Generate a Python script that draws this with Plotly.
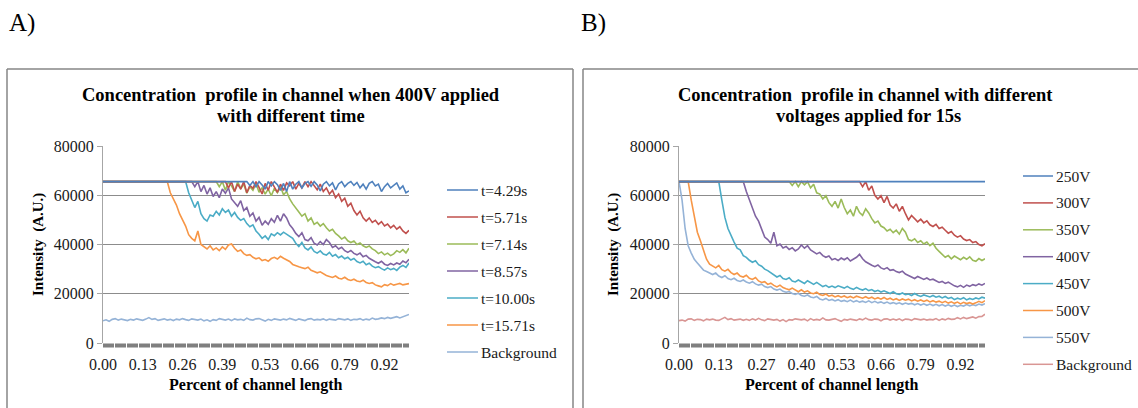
import plotly.graph_objects as go

# ---------------- data ----------------
# position along the channel (fraction of channel length), one value per sample
channel_pos = [round(i * 0.01, 2) for i in range(101)]

xtick_labels_a = ["0.00", "0.13", "0.26", "0.39", "0.53", "0.66", "0.79", "0.92"]
xtick_labels_b = ["0.00", "0.13", "0.27", "0.40", "0.53", "0.66", "0.79", "0.92"]
ytick_vals = [0, 20000, 40000, 60000, 80000]
ytick_labels = ["0", "20000", "40000", "60000", "80000"]

# Panel A: 400V applied for different times
a_names = ["t=4.29s", "t=5.71s", "t=7.14s", "t=8.57s", "t=10.00s", "t=15.71s", "Background"]

a_t429 = [65535] * 48 + [
    64000, 65535, 63500, 65535, 64200, 62500, 65535, 63800, 65535, 64300,
    62000, 64800, 61500, 65535, 62500, 64500, 65535, 63000, 64800, 65535,
    63600, 65535, 64200, 61800, 64500, 65535, 63800, 65000, 62200, 64600,
    65535, 63500, 64800, 65535, 64000, 65200, 63000, 64500, 62500, 64800,
    65535, 63800, 64500, 61500, 63500, 64800, 63000, 64200, 65000, 62500,
    63800, 61000, 61800]

a_t571 = [65535] * 41 + [
    63000, 65535, 61500, 64500, 62500, 65535, 61000, 64000, 62800, 65535,
    63200, 60500, 64800, 62000, 65535, 63500, 61200, 64500, 62000, 65000,
    63800, 65535, 62500, 64800, 63000, 65535, 63500, 65535, 64000, 62200,
    64500, 61500, 63000, 60500, 62000, 59000, 60500, 57500, 58800, 55500,
    56800, 53800, 52000, 53500, 50800, 49500, 50800, 49000, 49800, 48200,
    49300, 47500, 48300, 46800, 47800, 46200, 47200, 45500, 44500, 45800]

a_t714 = [65535] * 38 + [
    63500, 65535, 62000, 65535, 63800, 61500, 65535, 62800, 64500, 60800,
    63500, 62000, 64800, 61200, 63000, 60500, 62500, 59800, 62800, 61000,
    63500, 60200, 61500, 58500, 56500, 55000, 53200, 51500, 52500, 49500,
    50800, 48200, 49000, 47500, 48500, 46800, 45500, 46200, 44500, 43500,
    42200, 43000, 41500, 40800, 41400, 40000, 40600, 39500, 38800, 39400,
    38200, 37500, 36300, 37000, 35800, 36500, 35500, 36200, 37500, 36800,
    37900, 36600, 38500]

a_t857 = [65535] * 30 + [
    63500, 65535, 61500, 64000, 60500, 63000, 59500, 61500, 59000, 62500,
    60800, 63000, 58500, 57000, 55500, 57800, 53800, 55000, 51500, 52800,
    49500, 51000, 47800, 49500, 48200, 50500, 49000, 51800, 49500, 52500,
    50800, 48000, 46500, 44500, 43200, 44800, 42000, 41500, 42800, 40500,
    39800, 41200, 40000, 42000, 40800, 38800, 39500, 38200, 38900, 37500,
    36800, 37600, 36400, 35800, 36500, 35000, 35600, 34400, 33600, 33000,
    32400, 33200, 32000, 31500, 32300, 31700, 32500, 32000, 33300, 32600,
    34000]

a_t1000 = [65535] * 28 + [
    61000, 58000, 55000, 57500, 52500, 50500, 49500, 52000, 51500, 53500,
    52000, 54500, 53000, 54000, 51500, 53000, 51000, 49800, 50500, 48500,
    47200, 48000, 45500, 44200, 42500, 43500, 42000, 44300, 43600, 44800,
    43900, 45000, 44200, 43300, 42500, 40500, 39200, 40800, 38600, 37800,
    39000, 37200, 36500, 37400, 36100, 35700, 36800, 35200, 35900, 34600,
    35300, 34200, 34800, 33700, 34300, 33100, 32500, 33200, 31800, 32400,
    31200, 30600, 31000, 30200, 29600, 30500, 29800, 30300, 29500, 30800,
    31500, 30700, 32500]

a_t1571 = [65535] * 22 + [
    61000, 58500, 56000, 52500, 50000, 47500, 44000, 42500, 41500, 45500,
    40000, 39000, 38200, 39500, 37800, 38600, 37500, 39000, 38000, 39800,
    40200, 38500, 37200, 37800, 36300, 35600, 35900, 34800, 34200, 34600,
    33500, 33900, 33200, 34300, 34800, 34100, 35200, 34400, 33700, 33100,
    31900, 31600, 31000, 30600, 30200, 30800, 29500, 29000, 28500, 28900,
    28000, 27400, 27000, 26600, 27200, 26300, 26000, 26700, 25800, 25400,
    25900, 25200, 24900, 25500, 24600, 24200, 24500, 23600, 23200, 22800,
    23700, 23300, 24100, 23500, 23900, 24200, 23600, 24000, 24100]

a_background = [
    9000, 9400, 8800, 9600, 9900, 9300, 9700, 9500, 9100, 9600,
    9300, 9800, 9400, 9200, 9700, 10300, 9600, 9900, 9200, 9500,
    9800, 9300, 9600, 9100, 9700, 9400, 9900, 9500, 9200, 9800,
    9600, 9300, 9700, 9000, 9400, 8800, 9500, 9200, 9900, 9600,
    9300, 9700, 9100, 9800, 9400, 9600, 9200, 10100, 9500, 9300,
    9800, 9900, 9400, 8900, 9600, 9200, 9800, 9500, 9300, 9700,
    9400, 10000, 9600, 9200, 9800, 9500, 9100, 9700, 9900, 9300,
    9600, 9400, 9800, 9200, 9700, 9500, 9300, 9900, 9600, 9400,
    9800, 9200, 9600, 9500, 9900, 9300, 9700, 9400, 10100, 9600,
    9800, 10200, 9900, 10400, 10000, 10300, 10700, 10200, 10600, 10900,
    11600]

# Panel B: different voltages applied for 15 s
b_names = ["250V", "300V", "350V", "400V", "450V", "500V", "550V", "Background"]

b_250 = [65535] * 101

b_300 = [65535] * 60 + [
    63500, 65535, 62000, 63800, 60000, 58500, 59800, 57000, 59500, 56000,
    54800, 56500, 53500, 55500, 52500, 50000, 51800, 50500, 49200, 50300,
    48800, 49600, 48000, 47300, 48200, 46500, 47000, 45800, 44600, 45300,
    43800, 43000, 43600, 42200, 41600, 42000, 40800, 41200, 40000, 39500,
    40300]

b_350 = [65535] * 37 + [
    64000, 65535, 63500, 65535, 64200, 65535, 63000, 64500, 61000, 60500,
    58500, 59800, 57000, 55500, 57500, 54800, 58500, 55000, 52500, 54000,
    51500, 55500, 53000, 51800, 54500, 52800, 50500, 48800, 49500, 47500,
    46800, 45500, 46200, 44800, 45800, 44200, 46500, 45000, 42000, 41500,
    42300, 40800, 41500, 40200, 41000, 39500, 40500, 38500, 37200, 36000,
    34800, 35500, 34200, 35300, 34500, 33800, 34800, 34000, 35000, 33600,
    33200, 34300, 33500, 34200]

b_400 = [65535] * 22 + [
    61500, 58000, 55000, 51500, 49500, 46500, 43000, 42000, 40500, 45000,
    39500, 40200, 38600, 39200, 38000, 38700, 37400, 38200, 39800, 38500,
    39500, 37800, 37000, 36200, 36800, 35500, 34800, 35300, 33800, 34300,
    33500, 34500, 33800, 34600, 33300, 34000, 34800, 36000, 34200, 33000,
    32200, 31600, 31000, 31700, 30500, 30000, 30600, 29500, 29800, 29000,
    28600, 29200, 28000, 27500, 26800, 26200, 27000, 26500, 25800, 26400,
    25600, 25900, 25200, 24600, 25000, 24200, 24700, 23800, 23200, 22800,
    23400, 22600, 23500, 23000, 23700, 23300, 24000, 23500, 24200]

b_450 = [65535] * 14 + [
    58000, 51000, 46500, 43500, 41000, 38500, 37800, 35500, 34800, 33600,
    32800, 33400, 31800, 31200, 30000, 29400, 28600, 27500, 26800, 27400,
    26200, 25800, 26500, 25200, 24800, 25600, 24900, 24200, 25300, 24500,
    23800, 24600, 23600, 22900, 23400, 22600, 23100, 22500, 23200, 22700,
    22300, 23000, 22200, 21800, 22600, 21900, 21500, 22100, 21300, 21700,
    20900, 21400, 20700, 21200, 20500, 20100, 20800, 20000, 19700, 20300,
    19600, 19900, 19300, 20100, 19400, 18900, 19500, 19100, 18700, 19300,
    18600, 19000, 18300, 18900, 18100, 18500, 17600, 18200, 17800, 18400,
    17500, 18100, 17700, 18300, 17900, 18600, 18200]

b_500 = [65535] * 4 + [
    58000, 52000, 45000, 41500, 37500, 34000, 32000, 31200, 30500, 31500,
    29800, 29200, 29900, 28600, 27800, 28400, 27200, 26800, 27500, 26300,
    25800, 26600, 25200, 24600, 24900, 23800, 24300, 23400, 22800, 23500,
    22500, 22000, 21600, 22300, 21400, 20800, 21600, 20700, 21200, 20300,
    20000, 20600, 19700, 19300, 19900, 19000, 19400, 18700, 19200, 18600,
    19100, 18400, 18900, 18300, 19000, 18500, 18200, 18800, 18100, 18600,
    17900, 18400, 17800, 18500, 17700, 18200, 17500, 18000, 17300, 17900,
    17400, 17800, 17100, 17600, 17000, 17500, 16900, 17400, 16700, 17200,
    16600, 17000, 16400, 16900, 16200, 16700, 16100, 16600, 15900, 16500,
    16000, 16400, 15800, 16300, 16900, 16400, 17200]

b_550 = [
    65535, 58000, 46500, 39500, 36500, 34000, 32500, 30800, 29600, 29000,
    28300, 27800, 28400, 27200, 26600, 27300, 26200, 25700, 26300, 25400,
    25000, 25600, 24800, 24300, 24900, 24000, 23500, 23900, 22900, 22500,
    22900, 21900, 21500, 21900, 21000, 20600, 20900, 20100, 19700, 20200,
    19300, 19000, 19500, 18700, 18400, 18900, 17900, 17500, 18100, 17300,
    17700, 17100, 17600, 16900, 17300, 16800, 17400, 16700, 17200, 16600,
    17000, 16500, 17100, 16400, 16900, 16300, 16700, 16100, 16600, 16000,
    16400, 15900, 16300, 15700, 16200, 15800, 16100, 15500, 16000, 15400,
    15900, 15300, 15800, 15200, 15700, 15100, 15600, 15000, 15500, 14900,
    15400, 14800, 15300, 15000, 15600, 15100, 15500, 15200, 15800, 15400,
    16000]

b_background = [
    9100, 9300, 8900, 9700, 9800, 9200, 9600, 9500, 9000, 9700,
    9400, 9700, 9300, 9200, 9800, 10400, 9500, 9900, 9300, 9600,
    9700, 9200, 9600, 9200, 9800, 9300, 10000, 9400, 9100, 9800,
    9500, 9300, 9600, 8900, 9500, 8700, 9500, 9300, 9800, 9500,
    9400, 9700, 9000, 9900, 9300, 9600, 9300, 10200, 9400, 9300,
    9700, 9900, 9300, 8800, 9600, 9300, 9700, 9500, 9200, 9800,
    9400, 10100, 9500, 9300, 9700, 9600, 9000, 9700, 9800, 9300,
    9700, 9300, 9800, 9100, 9700, 9600, 9200, 9900, 9500, 9400,
    9700, 9300, 9600, 9400, 9900, 9200, 9800, 9400, 10000, 9600,
    9700, 10300, 9800, 10400, 9900, 10300, 10600, 10100, 10700, 10800,
    11700]

a_series = [a_t429, a_t571, a_t714, a_t857, a_t1000, a_t1571, a_background]
b_series = [b_250, b_300, b_350, b_400, b_450, b_500, b_550, b_background]

# ---------------- styles ----------------
a_colors = ["#4F81BD", "#C0504D", "#9BBB59", "#8064A2", "#4BACC6", "#F79646", "#95B3D7"]
b_colors = ["#4F81BD", "#C0504D", "#9BBB59", "#8064A2", "#4BACC6", "#F79646", "#95B3D7", "#D99694"]

W, H = 1138, 408
SERIF = "Liberation Serif"


def px_x(p):
    return p / W


def px_y(p):
    return 1 - p / H


fig = go.Figure()

# later series drawn first so that earlier ones sit on top
for ys, name, col in list(zip(a_series, a_names, a_colors))[::-1]:
    fig.add_trace(go.Scatter(x=channel_pos, y=ys, name=name, mode="lines",
                             line=dict(color=col, width=1.6), xaxis="x", yaxis="y",
                             showlegend=False, cliponaxis=True))
for ys, name, col in list(zip(b_series, b_names, b_colors))[::-1]:
    fig.add_trace(go.Scatter(x=channel_pos, y=ys, name=name, mode="lines",
                             line=dict(color=col, width=1.6), xaxis="x2", yaxis="y2",
                             showlegend=False, cliponaxis=True))

plot_a = (103, 409)
plot_b = (679, 985)
plot_top, plot_bot = 146, 343

yaxis_common = dict(range=[0, 80000], tickvals=ytick_vals, ticktext=ytick_labels,
                    showgrid=True, gridcolor="#8c8c8c", gridwidth=1, zeroline=False,
                    showline=True, linecolor="#a6a6a6", linewidth=1,
                    ticks="outside", ticklen=5, tickcolor="#a6a6a6", automargin=False,
                    tickfont=dict(family=SERIF, size=16, color="#1a1a1a"),
                    domain=[px_y(plot_bot), px_y(plot_top)], fixedrange=True)

xaxis_common = dict(range=[0, 1.0], showgrid=False, zeroline=False, showline=False,
                    ticks="outside", ticklen=7, tickcolor="rgba(0,0,0,0)", automargin=False,
                    tickfont=dict(family=SERIF, size=16, color="#1a1a1a"), fixedrange=True)

fig.update_layout(
    width=W, height=H, autosize=False,
    margin=dict(l=0, r=0, t=0, b=0, pad=0, autoexpand=False),
    paper_bgcolor="white", plot_bgcolor="white", showlegend=False,
    font=dict(family=SERIF),
    xaxis=dict(domain=[px_x(plot_a[0]), px_x(plot_a[1])], anchor="y",
               tickvals=[float(t) for t in xtick_labels_a], ticktext=xtick_labels_a,
               **xaxis_common),
    yaxis=dict(anchor="x", **yaxis_common),
    xaxis2=dict(domain=[px_x(plot_b[0]), px_x(plot_b[1])], anchor="y2",
                tickvals=[float(t) for t in xtick_labels_b], ticktext=xtick_labels_b,
                **xaxis_common),
    yaxis2=dict(anchor="x2", **yaxis_common),
)

shapes = []
annotations = []

# panel frames (kept inside the paper area)
frame = dict(color="#868686", width=1.5)
shapes += [
    dict(type="line", xref="paper", yref="paper", x0=px_x(7), x1=px_x(7), y0=0, y1=px_y(69), line=frame),
    dict(type="line", xref="paper", yref="paper", x0=px_x(7), x1=px_x(573), y0=px_y(69), y1=px_y(69), line=frame),
    dict(type="line", xref="paper", yref="paper", x0=px_x(573), x1=px_x(573), y0=0, y1=px_y(69), line=frame),
    dict(type="line", xref="paper", yref="paper", x0=px_x(583), x1=px_x(583), y0=0, y1=px_y(69), line=frame),
    dict(type="line", xref="paper", yref="paper", x0=px_x(583), x1=1, y0=px_y(69), y1=px_y(69), line=frame),
]

# dense category-axis band
for xr in ("x domain", "x2 domain"):
    shapes.append(dict(type="line", xref=xr, yref="paper", x0=0, x1=1,
                       y0=px_y(345.5), y1=px_y(345.5),
                       line=dict(color="#7f7f7f", width=4, dash="11px,1px"), layer="above"))

# panel letters
annotations.append(dict(text="A)", x=px_x(7), y=px_y(23), xref="paper", yref="paper",
                        xanchor="left", yanchor="middle", showarrow=False,
                        font=dict(family=SERIF, size=25, color="black")))
annotations.append(dict(text="B)", x=px_x(579), y=px_y(23), xref="paper", yref="paper",
                        xanchor="left", yanchor="middle", showarrow=False,
                        font=dict(family=SERIF, size=25, color="black")))

# chart titles
TSIZE = 18.5
annotations.append(dict(text="<b>Concentration  profile in channel when 400V applied</b>",
                        x=px_x(291), y=px_y(95), xref="paper", yref="paper",
                        xanchor="center", yanchor="middle", showarrow=False,
                        font=dict(family=SERIF, size=TSIZE, color="black")))
annotations.append(dict(text="<b>with different time</b>",
                        x=px_x(291), y=px_y(116), xref="paper", yref="paper",
                        xanchor="center", yanchor="middle", showarrow=False,
                        font=dict(family=SERIF, size=TSIZE, color="black")))
annotations.append(dict(text="<b>Concentration  profile in channel with different</b>",
                        x=px_x(866), y=px_y(95), xref="paper", yref="paper",
                        xanchor="center", yanchor="middle", showarrow=False,
                        font=dict(family=SERIF, size=TSIZE, color="black")))
annotations.append(dict(text="<b>voltages applied for 15s</b>",
                        x=px_x(868), y=px_y(116), xref="paper", yref="paper",
                        xanchor="center", yanchor="middle", showarrow=False,
                        font=dict(family=SERIF, size=TSIZE, color="black")))

# axis titles
for cx, px0 in ((38, plot_a), (613, plot_b)):
    annotations.append(dict(text="<b>Intensity  (A.U.)</b>", x=px_x(cx), y=px_y(245),
                            xref="paper", yref="paper", xanchor="center", yanchor="middle",
                            textangle=-90, showarrow=False,
                            font=dict(family=SERIF, size=15, color="black")))
    annotations.append(dict(text="<b>Percent of channel length</b>",
                            x=px_x((px0[0] + px0[1]) / 2), y=px_y(385),
                            xref="paper", yref="paper", xanchor="center", yanchor="middle",
                            showarrow=False, font=dict(family=SERIF, size=16, color="black")))


# manual legends
def add_legend(names, colors, x0, x1, xt, y_first, step):
    for i, (nm, col) in enumerate(zip(names, colors)):
        yy = y_first + step * i
        shapes.append(dict(type="line", xref="paper", yref="paper",
                           x0=px_x(x0), x1=px_x(x1), y0=px_y(yy), y1=px_y(yy),
                           line=dict(color=col, width=1.5)))
        annotations.append(dict(text=nm, x=px_x(xt), y=px_y(yy), xref="paper", yref="paper",
                                xanchor="left", yanchor="middle", showarrow=False,
                                font=dict(family=SERIF, size=15.5, color="#1a1a1a")))


add_legend(a_names, a_colors, 447, 478, 479, 190, 27)
add_legend(b_names, b_colors, 1023, 1053, 1054, 176, 26.9)

fig.update_layout(shapes=shapes, annotations=annotations)

fig.write_html("out.html",
               post_script="document.body.style.margin='0';document.body.style.overflow='hidden';")
